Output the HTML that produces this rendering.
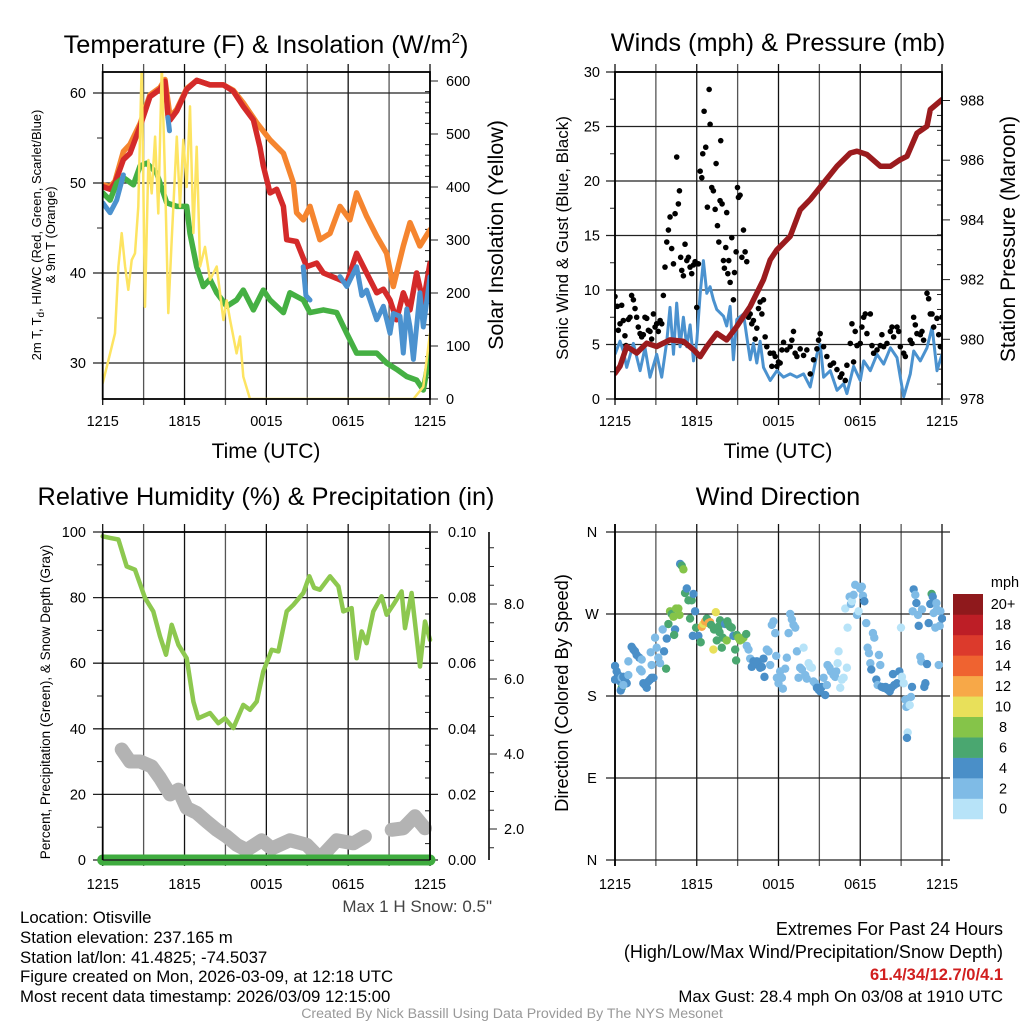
<!DOCTYPE html>
<html><head><meta charset="utf-8">
<style>
html,body{margin:0;padding:0;background:#fff;}
svg{display:block;font-family:"Liberation Sans",Arial,sans-serif;}
</style></head>
<body>
<svg id="chart" width="1024" height="1024" viewBox="0 0 1024 1024" xmlns="http://www.w3.org/2000/svg">
<defs>
<clipPath id="c1"><rect x="102.7" y="72" width="327.3" height="327"/></clipPath>
<clipPath id="c2"><rect x="615" y="72" width="327" height="327"/></clipPath>
<clipPath id="c3"><rect x="96" y="532" width="340" height="340"/></clipPath>
<clipPath id="c4"><rect x="611" y="528" width="335" height="335"/></clipPath>
</defs>
<g id="p1"></g>
<g id="p2"></g>
<g id="p3"></g>
<g id="p4"></g>
<g id="txt">
<text x="266" y="53" font-size="25.3" text-anchor="middle">Temperature (F) &amp; Insolation (W/m<tspan dy="-10" font-size="15">2</tspan><tspan dy="10">)</tspan></text>
<text x="778" y="51" font-size="25.3" text-anchor="middle">Winds (mph) &amp; Pressure (mb)</text>
<text x="266" y="505" font-size="25.3" text-anchor="middle">Relative Humidity (%) &amp; Precipitation (in)</text>
<text x="778" y="505" font-size="25.3" text-anchor="middle">Wind Direction</text>
<text x="266" y="458" font-size="21" text-anchor="middle">Time (UTC)</text>
<text x="778" y="458" font-size="21" text-anchor="middle">Time (UTC)</text>
<text transform="translate(41,235) rotate(-90)" font-size="13" text-anchor="middle">2m T, T<tspan font-size="10" dy="3">d</tspan><tspan dy="-3">, HI/WC (Red, Green, Scarlet/Blue)</tspan></text>
<text transform="translate(55,235) rotate(-90)" font-size="13" text-anchor="middle">&amp; 9m T (Orange)</text>
<text transform="translate(503,235) rotate(-90)" font-size="21.5" text-anchor="middle">Solar Insolation (Yellow)</text>
<text transform="translate(568,238) rotate(-90)" font-size="17" text-anchor="middle">Sonic Wind &amp; Gust (Blue, Black)</text>
<text transform="translate(1015,239) rotate(-90)" font-size="21" text-anchor="middle">Station Pressure (Maroon)</text>
<text transform="translate(50,702) rotate(-90)" font-size="13.5" text-anchor="middle">Percent, Precipitation (Green), &amp; Snow Depth (Gray)</text>
<text transform="translate(568,693) rotate(-90)" font-size="18.3" text-anchor="middle">Direction (Colored By Speed)</text>
<text x="492" y="912" font-size="17" text-anchor="end" fill="#444">Max 1 H Snow: 0.5"</text>
<g font-size="16.8">
<text x="20" y="923">Location: Otisville</text>
<text x="20" y="943">Station elevation: 237.165 m</text>
<text x="20" y="963">Station lat/lon: 41.4825; -74.5037</text>
<text x="20" y="982">Figure created on Mon, 2026-03-09, at 12:18 UTC</text>
<text x="20" y="1002">Most recent data timestamp: 2026/03/09 12:15:00</text>
</g>
<g font-size="18">
<text x="1003" y="935" text-anchor="end">Extremes For Past 24 Hours</text>
<text x="1003" y="958" text-anchor="end">(High/Low/Max Wind/Precipitation/Snow Depth)</text>
<text x="1003" y="980" text-anchor="end" fill="#d11f1f" font-weight="bold" font-size="16.5">61.4/34/12.7/0/4.1</text>
<text x="1003" y="1002" text-anchor="end" font-size="16.8">Max Gust: 28.4 mph On 03/08 at 1910 UTC</text>
</g>
<text x="512" y="1018" font-size="14.2" text-anchor="middle" fill="#999">Created By Nick Bassill Using Data Provided By The NYS Mesonet</text>
</g>
</svg>
<script>
// ---------- data ----------
const xTickLabels = ["1215","1815","0015","0615","1215"];
const redT = [0,.54,.9,1.52,2.0,2.74,3.47,4.2,4.57,4.8,4.94,5.43,6.16,6.89,7.87,8.85,9.58,10.31,11.05,11.53,11.78,12.27,12.76,13.25,13.49,14.22,14.96,15.69,16.18,17.16,17.89,18.62,19.35,20.09,20.58,21.07,21.55,22.04,22.53,23.02,23.51,24];
const redV = [49.6,49.3,50,52.6,53.3,56.3,59.6,60.4,61.3,57.2,57,58,60.4,61.4,60.9,60.9,60.2,58.5,57,54,51.9,48.9,49.3,47.4,43.7,43.5,40.7,41.1,40,39.4,38.9,42.2,40,37.8,38.2,37,34.8,37.8,35.9,40,36.7,41.1];
const orangeT = [0,.54,.9,1.52,2.0,2.74,3.47,4.2,4.57,4.94,5.43,6.16,6.89,7.87,8.85,9.58,10.31,11.29,12.27,13.25,13.98,14.22,14.71,15.2,15.93,16.67,17.4,18.13,18.62,19.35,20.09,20.82,21.31,22.04,22.53,23.26,24];
const orangeV = [49.8,49.6,50.2,53.5,54.3,56.6,59.8,60.6,61.5,57.3,58.2,60.5,61.4,60.9,60.9,60.3,58.9,56.7,54.8,53.3,50,46.7,45.9,47.4,43.7,44.4,47.4,45.9,48.9,46.3,44.1,42.2,38.5,43,45.6,43,44.8];
const greenT = [0,.54,1.03,1.52,2.25,2.74,3.23,3.96,4.69,5.43,6.16,6.4,6.89,7.38,7.87,8.36,9.09,9.82,10.31,11.05,11.78,12.27,13.25,13.73,14.71,15.2,16.18,17.16,17.89,18.62,19.35,20.09,20.82,21.55,22.29,23.02,23.51,24];
const greenV = [48.9,48.1,50,50.6,49.8,51.9,52.2,51.1,47.8,47.4,47.4,44.4,40.7,38.5,39.3,37.8,36.3,37,38.1,35.9,38.1,37,35.6,37.8,37,35.6,35.9,35.6,33.3,31.1,31.1,31.1,30,29.3,28.5,28.1,27,31.1];
const blueT = [0,.54,1.03,1.52,null,4.78,4.9,null,14.7,14.9,15.2,null,17.4,17.9,18.62,19.0,19.35,20.09,20.58,21.07,21.3,21.8,22.04,22.3,22.53,22.78,23.26,23.51,24];
const blueV = [47.8,46.7,48.1,50.9,null,57.3,55.8,null,40.7,37.5,37,null,39.6,38.5,40.7,37.5,38.1,34.8,36.3,33.3,35.5,35.2,31.1,36,34,30.4,37.8,34,39.6];
const solarT = [0,.54,.9,1.15,1.39,1.64,1.88,2.13,2.37,2.61,2.86,3.1,3.35,3.59,3.84,4.08,4.33,4.57,4.81,5.06,5.43,5.67,5.91,6.16,6.4,6.65,6.89,7.14,7.5,7.87,8.36,8.85,9.09,9.34,9.82,10.07,10.31,10.8,22.78,23.51,24];
const solarV = [30,86,124,250,313,250,206,262,275,363,630,174,451,388,495,350,630,420,162,300,495,363,489,400,552,313,476,250,287,225,250,149,186,149,86,118,42,0,0,23,124];
const tempTicks = [30,40,50,60];
const solarTicks = [0,100,200,300,400,500,600];

const pressT = [0,.37,.86,1.59,2.33,3.06,4.04,5.02,5.76,6.25,6.74,7.47,8.2,8.94,9.92,10.9,11.39,11.88,12.86,13.59,14.33,15.31,16.29,17.27,17.76,18.49,19.47,20.21,20.94,21.43,22.16,22.9,23.14,24];
const pressV = [978.86,979.1,979.76,979.54,979.87,979.76,979.98,979.93,979.65,979.42,979.76,980.2,979.98,980.43,981.1,982,982.66,983,983.45,984.34,984.68,985.24,985.8,986.24,986.3,986.19,985.8,985.8,986.02,986.13,986.9,987.14,987.7,988.03];
const sonicT = [0,.37,.61,.86,1.35,1.84,2.2,2.57,3.06,3.43,3.8,4.04,4.29,4.53,4.78,5.02,5.27,5.51,5.76,6.0,6.25,6.49,6.74,6.98,7.22,7.47,7.96,8.2,8.45,8.69,8.94,9.43,9.67,9.92,10.16,10.41,10.65,10.9,11.39,11.88,12.37,12.86,13.35,13.84,14.33,14.82,15.06,15.31,15.8,16.29,16.78,17.02,17.51,18.0,18.25,18.74,19.23,19.72,20.21,20.7,20.94,21.19,21.67,21.92,22.41,22.9,23.27,23.63,24];
const sonicV = [4.1,5.3,4.4,2.9,5.1,2.6,4.7,2.0,4.1,2.0,5.3,8.4,4.1,8.8,4.8,7.5,4.8,6.8,3.5,5.3,9.7,12.7,9.7,10.3,9.1,8.2,7.6,6.7,8.5,3.6,7.3,7.8,5.7,3.6,5.1,3.3,5.3,2.9,1.7,2.6,2.0,2.3,2.0,2.3,1.1,4.1,5.0,2.0,2.6,0.8,1.4,0.5,3.0,1.7,3.5,2.6,4.1,3.2,4.7,3.8,2.0,0.2,2.3,4.4,3.5,4.7,6.6,2.6,4.1];
const gustT = [0,0,.17,.24,.37,.49,.61,.73,.81,.98,1.1,1.22,1.35,1.47,1.59,1.71,1.84,1.96,2.08,2.2,2.33,2.45,2.57,2.69,2.82,2.94,3.06,3.18,3.31,3.43,3.55,3.67,3.8,3.92,4.04,4.16,4.29,4.41,4.53,4.65,4.73,4.82,4.9,5.02,5.14,5.27,5.39,5.51,5.63,5.76,5.88,6.0,6.12,6.25,6.37,6.44,6.54,6.66,6.78,6.91,6.98,7.1,7.22,7.35,7.42,7.52,7.62,7.71,7.76,7.86,7.96,8.03,8.13,8.2,8.28,8.35,8.45,8.57,8.69,8.77,8.89,8.99,9.06,9.18,9.31,9.43,9.55,9.67,9.8,9.92,10.04,10.16,10.29,10.41,10.53,10.65,10.78,10.9,11.02,11.14,11.39,11.51,11.63,11.76,11.88,12.0,12.12,12.25,12.37,12.61,12.86,12.98,13.1,13.22,13.35,13.59,13.84,14.08,14.33,14.57,14.82,14.94,15.06,15.31,15.55,15.8,16.04,16.29,16.53,16.65,16.9,17.02,17.27,17.39,17.51,17.63,17.76,18.0,18.12,18.25,18.37,18.49,18.74,18.86,18.98,19.23,19.47,19.59,19.72,19.96,20.21,20.33,20.45,20.7,20.82,20.94,21.19,21.31,21.67,21.8,21.92,22.04,22.16,22.41,22.53,22.65,22.9,23.02,23.14,23.27,23.39,23.63,23.76,23.88,24.0];
const gustV = [9.4,8.5,8.5,6.3,6.9,8.6,7.2,5.8,4.9,7.3,7.5,9.5,9.1,8.3,7.5,6.6,6.0,5.7,5.9,7.5,7.4,6.3,6.2,5.5,7.8,6.6,6.9,6.2,7.2,6.9,9.5,12.1,14.4,15.5,16.7,13.8,12.4,17.0,22.2,17.9,19.1,13.0,11.8,11.3,14.2,12.7,13.0,12.1,11.5,12.3,12.6,8.4,12.4,20.9,20.3,22.5,26.4,23.1,17.6,28.4,25.2,19.4,19.1,17.4,21.6,15.9,14.4,18.2,23.7,17.9,12.7,12.0,13.9,17.1,11.5,12.7,10.7,14.8,9.1,11.6,13.5,19.4,18.5,18.7,13.0,15.5,13.5,12.6,7.5,7.8,6.9,7.2,5.5,6.5,8.3,8.9,7.8,9.1,5.7,4.8,4.2,3.0,4.2,3.9,3.0,3.4,3.3,4.5,5.2,4.5,4.8,5.4,6.2,4.2,3.9,4.6,4.0,4.5,2.3,3.6,4.6,5.4,6.0,4.8,3.9,3.1,3.3,2.7,2.0,2.3,1.7,3.1,5.1,6.9,3.4,6.2,4.9,5.1,6.6,7.5,7.8,6.0,7.8,4.9,4.2,4.5,4.9,5.9,4.8,5.1,6.2,6.6,5.7,6.6,6.2,4.8,4.2,3.9,5.4,5.1,7.5,6.8,6.0,5.9,6.2,5.4,9.7,9.2,7.8,7.8,6.6,7.4,5.9,4.8,7.5];
const windTicks = [0,5,10,15,20,25,30];
const pressTicks = [978,980,982,984,986,988];

const rhT = [0,.54,1.15,1.76,2.37,3.1,3.71,4.2,4.64,5.06,5.55,6.16,6.65,7.0,7.87,8.48,8.97,9.58,10.31,10.8,11.29,11.78,12.39,12.88,13.49,13.98,14.71,15.15,15.5,15.93,16.67,17.28,17.64,18.25,18.62,18.99,19.35,19.84,20.45,20.82,21.31,21.92,22.17,22.65,23.27,23.63,24];
const rhV = [98.7,98.2,97.7,89.5,88.5,79.9,75.8,68.2,62.6,71.7,65.6,61.5,48.3,43.2,44.8,41.7,43.2,40.2,47.3,45.8,48.3,57.5,64.1,63.6,75.8,77.8,81.4,86.5,83,82.4,86.5,83.4,75.8,76.8,61.5,69.7,66.1,75.8,80.4,74.8,77.8,81.9,70.7,81.4,59,72.7,67.1];
const snowT = [1.39,2.0,2.74,3.59,4.2,4.94,5.55,6.16,6.89,7.62,8.36,9.09,9.82,10.55,11.66,12.39,13.73,14.96,15.93,17.16,18.38,19.23,null,21.19,22.04,22.9,23.63];
const snowV = [4.12,3.8,3.8,3.67,3.36,2.92,3.05,2.56,2.43,2.2,1.98,1.8,1.58,1.44,1.7,1.48,1.7,1.58,1.22,1.7,1.62,1.8,null,1.98,2.02,2.34,2.02];
const precipT = [0,24];
const precipV = [0,0];
const rhTicks = [0,20,40,60,80,100];
const precipTicks = ["0.00","0.02","0.04","0.06","0.08","0.10"];
const snowTicks = [2,4,6,8];

const dirT = [0,0,.12,.24,.37,.49,.61,.73,.86,.49,.42,.61,.98,1.22,1.35,1.47,1.59,1.79,1.96,.98,1.84,1.96,2.08,2.2,2.33,2.45,2.57,2.69,2.82,2.62,2.69,2.94,3.06,3.18,3.31,3.5,3.6,3.75,3.8,3.92,4.04,4.16,4.29,4.41,4.34,4.48,4.65,4.73,4.78,4.9,5.02,5.14,5.27,5.39,5.51,5.63,5.76,5.88,5.71,5.95,6.12,6.29,6.37,6.49,6.61,6.74,6.86,6.98,7.05,7.22,7.27,7.4,7.47,7.59,7.67,7.71,7.84,7.91,8.08,8.2,8.25,8.33,8.45,8.57,8.69,8.82,8.89,8.94,9.06,9.18,9.31,9.43,9.63,9.67,9.8,9.92,10.04,10.16,10.29,10.41,10.53,10.65,10.78,10.9,10.97,11.14,11.27,11.39,11.51,11.63,11.76,11.83,11.88,12,12.12,12.25,12.32,12.49,12.61,12.74,12.86,12.98,13.1,13.23,13.35,13.47,13.59,13.72,13.84,13.96,14.08,14.21,14.33,14.45,14.57,14.69,14.82,14.94,15.06,15.18,15.31,15.43,15.55,15.6,15.75,15.85,16.04,16.16,16.24,16.34,16.41,16.53,16.65,16.78,16.9,17.02,17.07,17.22,17.32,17.39,17.51,17.63,17.76,17.88,18,18.12,18.2,18.3,18.44,18.54,18.64,18.74,18.81,18.93,19.03,19.18,19.28,19.37,19.47,19.57,19.72,19.86,20.01,20.16,20.28,20.4,20.5,20.7,20.87,20.99,21.06,21.19,21.31,21.38,21.48,21.43,21.63,21.72,21.8,21.85,21.92,22.04,22.12,22.24,22.29,22.41,22.48,22.53,22.7,22.78,22.9,23.02,23.14,23.24,23.32,23.39,23.51,23.59,23.63,23.76,23.83,23.88,24];
const dirV = [213,198,207,203,196,200,201,198,194,189,186,192,203,234,231,229,225,222,220,218,209,207,194,192,189,196,198,200,200,228,214,244,233,222,216,253,229,210,243,259,273,270,267,253,247,276,276,269,325,323,319,293,298,285,265,285,292,273,246,255,246,239,256,259,262,265,260,261,258,231,253,272,241,256,250,263,233,244,259,241,262,258,256,255,246,231,219,247,244,241,242,244,248,235,231,221,212,218,216,218,214,211,212,221,201,231,229,214,258,262,249,224,200,194,207,200,188,210,222,249,270,264,258,255,229,200,211,209,233,203,199,216,212,211,196,194,189,187,185,190,200,181,192,214,211,207,203,201,207,216,229,189,198,200,276,211,255,289,281,284,291,302,269,273,298,300,290,284,260,233,227,216,209,249,244,198,192,225,214,190,189,190,187,185,189,204,192,194,207,255,201,194,176,168,140,134,170,179,190,273,297,291,282,269,257,223,218,275,190,194,215,260,281,292,289,271,255,282,275,214,257,273,265];
const dirSpeed = [5,5,5,5,5,3,5,5,5,7,5,3,3,5,5,5,5,5,3,3,3,3,5,5,5,5,5,5,5,3,3,3,3,3,3,3,5,7,5,7,9,7,9,5,7,9,9,9,5,7,9,7,5,7,7,7,5,5,5,7,5,7,13,11,13,7,13,13,7,11,7,11,7,7,7,7,7,7,5,9,7,7,7,7,5,7,7,7,9,9,9,9,7,3,3,3,5,5,5,5,5,5,5,5,5,3,3,3,3,3,3,3,3,3,3,3,3,3,3,3,3,3,3,3,3,3,3,3,1,3,3,1,1,1,3,3,5,5,5,5,3,5,3,3,3,3,3,3,3,1,1,1,1,1,1,1,1,3,3,1,3,3,3,1,3,3,3,5,3,3,3,3,5,3,3,5,3,3,3,5,5,5,5,5,5,5,5,5,5,1,1,1,3,3,1,5,1,3,5,3,5,3,5,3,5,3,3,3,5,5,5,5,5,7,5,3,3,3,3,3,3,3,5];
const dirTickLabels = ["N","E","S","W","N"];
const speedBins = ["0","2","4","6","8","10","12","14","16","18","20+"];
const speedColors = ["#b7e3f8","#7fbbe6","#4a8fc8","#4aa770","#85c449","#e8e05a","#f7a848","#ef6330","#dc3a2c","#bd1e26","#8f191c"];

// ---------- helpers ----------
const NS = "http://www.w3.org/2000/svg";
function el(parent, tag, attrs){ const e=document.createElementNS(NS,tag); for(const k in attrs) e.setAttribute(k,attrs[k]); parent.appendChild(e); return e; }
function linePath(ts, vs, sx, sy){
  let d="", pen=false;
  for(let i=0;i<ts.length;i++){
    if(ts[i]===null||vs[i]===null){pen=false;continue;}
    d += (pen?"L":"M")+sx(ts[i]).toFixed(1)+","+sy(vs[i]).toFixed(1);
    pen=true;
  }
  return d;
}
function timeAxis(g, X0, X1, yTop, yBot, labelY){
  const sx = t => X0 + t/24*(X1-X0);
  for(let h=0; h<=24; h+=3){
    const ln = el(g,"line",{x1:sx(h),x2:sx(h),y1:yTop-8,y2:yBot+6,stroke:(h%6===0?"#111":"#555"),"stroke-width":1.3});
    
    
  }
  xTickLabels.forEach((lab,i)=>{
    const t = el(g,"text",{x:sx(i*6),y:labelY,"font-size":14.5,"text-anchor":"middle"});
    t.textContent = lab;
    
    
  });
  return sx;
}
function box(g,x0,y0,x1,y1){
  const r = el(g,"rect",{x:x0,y:y0,width:x1-x0,height:y1-y0,fill:"none",stroke:"#000","stroke-width":1.8});
  
  
}

// ---------- panel 1 ----------
(function(){
  const g = document.getElementById("p1");
  const X0=102.7,X1=430,Y0=72,Y1=399;
  const sx = timeAxis(g,X0,X1,Y0,Y1,426);
  const sy = v => 93 + (60-v)*9;
  const sy2 = v => 399 - v*0.53;
  tempTicks.forEach(v=>{
    const l = el(g,"line",{x1:93,x2:X1,y1:sy(v),y2:sy(v),stroke:"#222","stroke-width":1.3});
    
    
    const t = el(g,"text",{x:86,y:sy(v)+5,"font-size":14.5,"text-anchor":"end"}); t.textContent=v;
    
    
  });
  [35,45,55].forEach(v=>{ el(g,"line",{x1:97,x2:X0,y1:sy(v),y2:sy(v),stroke:"#222","stroke-width":1}); });
  for(let v=0; v<=600; v+=20){
    const major = v%100===0;
    el(g,"line",{x1:major?X1:X1-5,x2:major?X1+8:X1,y1:sy2(v),y2:sy2(v),stroke:"#222","stroke-width":1});
  }
  solarTicks.forEach(v=>{
    const t = el(g,"text",{x:446,y:sy2(v)+5,"font-size":14.5}); t.textContent=v;
    
    
  });
  const c = el(g,"g",{"clip-path":"url(#c1)"});
  const series = [[orangeT,orangeV,"#f5852f",5.5,sy],[redT,redV,"#d42a2a",5.5,sy],[greenT,greenV,"#45b043",5.5,sy],[blueT,blueV,"#4b92cf",5,sy],[solarT,solarV,"#fde462",2.5,sy2]];
  const names = ["temp-9m-line","temp-2m-line","dewpoint-line","windchill-line","insolation-line"];
  series.forEach((s,i)=>{
    const p = el(c,"path",{d:linePath(s[0],s[1],sx,s[4]),fill:"none",stroke:s[2],"stroke-width":s[3],"stroke-linejoin":"round","stroke-linecap":"round"});
    
    
  });
  box(g,X0,Y0,X1,Y1);
})();

// ---------- panel 2 ----------
(function(){
  const g = document.getElementById("p2");
  const X0=615,X1=942,Y0=72,Y1=399;
  const sx = timeAxis(g,X0,X1,Y0,Y1,426);
  const sy = v => 399 - v*10.9;
  const sy2 = p => 399 - (p-978)*29.85;
  windTicks.forEach(v=>{
    const l = el(g,"line",{x1:606,x2:X1,y1:sy(v),y2:sy(v),stroke:"#222","stroke-width":1.3});
    
    
    const t = el(g,"text",{x:600,y:sy(v)+5,"font-size":14.5,"text-anchor":"end"}); t.textContent=v;
    
    
  });
  for(let v=2.5; v<30; v+=5){ el(g,"line",{x1:610,x2:X0,y1:sy(v),y2:sy(v),stroke:"#222","stroke-width":1}); }
  for(let p=978; p<=988.01; p+=0.5){
    const major = Math.abs(p-Math.round(p))<0.01 && Math.round(p)%2===0;
    el(g,"line",{x1:major?X1:X1-5,x2:major?X1+8:X1,y1:sy2(p),y2:sy2(p),stroke:"#222","stroke-width":1});
  }
  pressTicks.forEach(v=>{
    const t = el(g,"text",{x:960,y:sy2(v)+5,"font-size":14.5}); t.textContent=v;
    
    
  });
  const c = el(g,"g",{"clip-path":"url(#c2)"});
  const s1 = el(c,"path",{d:linePath(sonicT,sonicV,sx,sy),fill:"none",stroke:"#4b92cf","stroke-width":3,"stroke-linejoin":"round"});
  
  
  gustT.forEach((t,i)=>{
    const d = el(c,"circle",{cx:sx(t),cy:sy(gustV[i]),r:2.8,fill:"#000"});
    
    
  });
  const s2 = el(c,"path",{d:linePath(pressT,pressV,sx,sy2),fill:"none",stroke:"#9b1b1e","stroke-width":5.5,"stroke-linejoin":"round","stroke-linecap":"round"});
  
  
  box(g,X0,Y0,X1,Y1);
})();

// ---------- panel 3 ----------
(function(){
  const g = document.getElementById("p3");
  const X0=102.7,X1=430,Y0=532,Y1=860;
  const sx = timeAxis(g,X0,X1,Y0,Y1,889);
  const sy = v => 860 - v*3.28;
  const sn = v => 829 - (v-2)*37.5;
  rhTicks.forEach((v,i)=>{
    const l = el(g,"line",{x1:93,x2:X1+8,y1:sy(v),y2:sy(v),stroke:"#222","stroke-width":1.3});
    
    
    const t = el(g,"text",{x:86,y:sy(v)+5,"font-size":14.5,"text-anchor":"end"}); t.textContent=v;
    
    
    const t2 = el(g,"text",{x:448,y:sy(v)+5,"font-size":14.5}); t2.textContent=precipTicks[i];
    
    
  });
  for(let v=5; v<100; v+=5){ if(v%20) el(g,"line",{x1:X1-5,x2:X1,y1:sy(v),y2:sy(v),stroke:"#222","stroke-width":1}); }
  for(let v=10; v<100; v+=20){ el(g,"line",{x1:97,x2:X0,y1:sy(v),y2:sy(v),stroke:"#222","stroke-width":1}); }
  const ax = el(g,"line",{x1:489,x2:489,y1:532,y2:860,stroke:"#222","stroke-width":1.8});
  
  
  for(let v=1.5; v<=9.9; v+=0.5){
    const major = Math.abs(v-Math.round(v))<0.01 && Math.round(v)%2===0;
    el(g,"line",{x1:489,x2:major?497:494,y1:sn(v),y2:sn(v),stroke:"#222","stroke-width":1});
  }
  snowTicks.forEach(v=>{
    const t = el(g,"text",{x:504,y:sn(v)+5,"font-size":14.5}); t.textContent=v.toFixed(1);
    
    
  });
  const c = el(g,"g",{"clip-path":"url(#c3)"});
  const p1 = el(c,"path",{d:linePath(snowT,snowV,sx,sn),fill:"none",stroke:"#b3b3b3","stroke-width":14,"stroke-linejoin":"round","stroke-linecap":"round"});
  
  
  const p2 = el(c,"path",{d:linePath(rhT,rhV,sx,sy),fill:"none",stroke:"#8dc84f","stroke-width":4.5,"stroke-linejoin":"round","stroke-linecap":"round"});
  
  
  const p3 = el(c,"path",{d:linePath(precipT,precipV.map(v=>v*1000),sx,sy),fill:"none",stroke:"#3fac3f","stroke-width":11,"stroke-linecap":"round"});
  
  
  el(g,"line",{x1:X0,x2:X1,y1:Y1,y2:Y1,stroke:"#222","stroke-width":1.5});
  el(g,"line",{x1:X0,x2:X0,y1:Y0,y2:Y1,stroke:"#000","stroke-width":1.8});
  el(g,"line",{x1:X1,x2:X1,y1:Y0,y2:Y1,stroke:"#000","stroke-width":1.8});
  el(g,"line",{x1:X0,x2:X1,y1:Y0,y2:Y0,stroke:"#000","stroke-width":1.8});
})();

// ---------- panel 4 ----------
(function(){
  const g = document.getElementById("p4");
  const X0=615,X1=942,Y0=532,Y1=860;
  const sx = timeAxis(g,X0,X1,Y0,Y1,889);
  const sy = d => 860 - d*328/360;
  dirTickLabels.forEach((lab,i)=>{
    const v=i*90;
    const l = el(g,"line",{x1:606,x2:950,y1:sy(v),y2:sy(v),stroke:"#222","stroke-width":1.3});
    
    
    const t = el(g,"text",{x:592,y:sy(v)+5,"font-size":14.5,"text-anchor":"middle"}); t.textContent=lab;
    
    
  });
  el(g,"line",{x1:X0,x2:X0,y1:Y0-8,y2:Y1+6,stroke:"#000","stroke-width":1.8});
  const c = el(g,"g",{"clip-path":"url(#c4)"});
  dirT.forEach((t,i)=>{
    const idx = Math.min(10, Math.floor(dirSpeed[i]/2));
    const d = el(c,"circle",{cx:sx(t),cy:sy(dirV[i]),r:4.2,fill:speedColors[idx]});
    
    
  });
  const cb = el(g,"g",{});
  
  
  const top=594, h=20.45;
  speedBins.forEach((lab,i)=>{
    const k = speedBins.length-1-i;
    const y = top + k*h;
    const r = el(cb,"rect",{x:953,y:y,width:30,height:h+0.3,fill:speedColors[i]});
    
    
    const t = el(cb,"text",{x:1003,y:y+h/2+5,"font-size":14.5,"text-anchor":"middle"}); t.textContent=lab;
    
    
  });
  const u = el(cb,"text",{x:1005,y:587,"font-size":14.5,"text-anchor":"middle"}); u.textContent="mph";
  
  
})();
</script>
</body></html>
